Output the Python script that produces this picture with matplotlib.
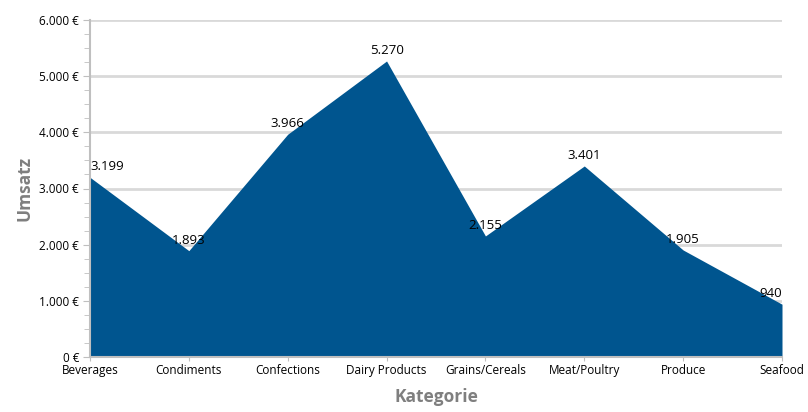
import matplotlib
matplotlib.use("Agg")
import matplotlib.pyplot as plt
from matplotlib.ticker import MultipleLocator, FuncFormatter

categories = ["Beverages", "Condiments", "Confections", "Dairy Products",
              "Grains/Cereals", "Meat/Poultry", "Produce", "Seafood"]
values = [3199, 1893, 3966, 5270, 2155, 3401, 1905, 940]
value_labels = ["3.199", "1.893", "3.966", "5.270", "2.155", "3.401", "1.905", "940"]

plt.rcParams['font.family'] = ['Open Sans', 'DejaVu Sans']

fig = plt.figure(figsize=(8.08, 4.12), dpi=100)
ax = fig.add_axes([90/808, 1-357/412, (782-90)/808, (357-20)/412])

x = list(range(len(categories)))
ax.fill_between(x, values, 0, color="#00558F", linewidth=0, zorder=2)

ax.set_xlim(0, len(categories)-1)
ax.set_ylim(0, 6000)
ax.yaxis.set_major_locator(MultipleLocator(1000))
ax.yaxis.set_minor_locator(MultipleLocator(250))
ax.yaxis.set_major_formatter(FuncFormatter(lambda v, p: f"{int(v):,}".replace(",", ".") + " €"))
ax.grid(axis='y', which='major', color="#D9D9D9", linewidth=2, zorder=1)
ax.set_axisbelow(True)

ax.set_xticks(x)
ax.set_xticklabels(categories)
ax.tick_params(axis='x', length=3, color="#BFBFBF", labelsize=8.5, pad=2)
ax.tick_params(axis='y', which='major', length=5, color="#BFBFBF", labelsize=8.5, pad=3)
ax.tick_params(axis='y', which='minor', length=4, color="#BFBFBF")

for s in ["top", "right"]:
    ax.spines[s].set_visible(False)
for s in ["left", "bottom"]:
    ax.spines[s].set_color("#BFBFBF")
    ax.spines[s].set_linewidth(1.5)

for i, (v, lab) in enumerate(zip(values, value_labels)):
    ha = "center"
    if i == 0:
        ha = "left"
    elif i == len(values)-1:
        ha = "right"
    ax.annotate(lab, (i, v), xytext=(0, 3), textcoords="offset points",
                ha=ha, va="bottom", fontsize=9.5, color="black", zorder=3)

ax.set_ylabel("Umsatz", fontsize=12.5, fontweight="bold", color="#7F7F7F", labelpad=4)
ax.set_xlabel("Kategorie", fontsize=12.5, fontweight="bold", color="#7F7F7F", labelpad=8)

fig.savefig("out.png", dpi=100)
